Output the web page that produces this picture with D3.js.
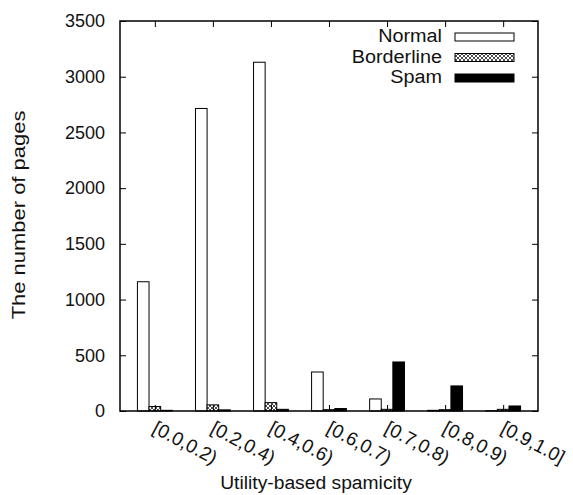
<!DOCTYPE html>
<html>
<head>
<meta charset="utf-8">
<script src="https://cdn.jsdelivr.net/npm/d3@7"></script>
<style>
  body { margin: 0; background: white; }
  text { font-family: "Liberation Sans", Arial, sans-serif; fill: #111; }
</style>
</head>
<body>
<div id="plot"></div>
<script>
// bins of utility-based spamicity
const categories = ["[0.0,0.2)", "[0.2,0.4)", "[0.4,0.6)", "[0.6,0.7)", "[0.7,0.8)", "[0.8,0.9)", "[0.9,1.0]"];
const normal = [1160, 2715, 3130, 350, 108, 6, 2];
const borderline = [40, 55, 75, 12, 15, 12, 15];
const spam = [6, 10, 15, 22, 440, 225, 45];
const yTicks = [0, 500, 1000, 1500, 2000, 2500, 3000, 3500];
const seriesNames = ["Normal", "Borderline", "Spam"];

const w = 573;
const h = 495;
const margin = {top: 21, right: 35, bottom: 84, left: 120};

const svg = d3.select("div#plot")
  .append("svg")
  .attr("width", w)
  .attr("height", h);

svg.append("rect")
  .attr("width", w)
  .attr("height", h)
  .attr("fill", "white");

// the scanned font is a bit wider than Arial
function stretch(sel, k) {
  sel.each(function () {
    const len = this.getComputedTextLength();
    d3.select(this).attr("textLength", len * k).attr("lengthAdjust", "spacingAndGlyphs");
  });
}

// hatch for borderline
const defs = svg.append("defs");
const pat = defs.append("pattern")
  .attr("id", "hatch")
  .attr("patternUnits", "userSpaceOnUse")
  .attr("width", 4)
  .attr("height", 4);
pat.append("rect").attr("width", 4).attr("height", 4).attr("fill", "white");
pat.append("path")
  .attr("d", "M0,4 L4,0 M0,0 L4,4")
  .attr("stroke", "#222")
  .attr("stroke-width", 0.8);

const xScale = d3.scaleLinear()
  .domain([-0.6, categories.length - 0.4])
  .range([margin.left, w - margin.right]);

const yScale = d3.scaleLinear()
  .domain([0, 3500])
  .range([h - margin.bottom, margin.top]);

const barW = 0.2;
const series = [
  {name: "Normal", values: normal, offset: -0.2, fill: "white"},
  {name: "Borderline", values: borderline, offset: 0, fill: "url(#hatch)"},
  {name: "Spam", values: spam, offset: 0.2, fill: "black"}
];

// bars
series.forEach(s => {
  svg.append("g")
    .selectAll("rect")
    .data(s.values)
    .enter()
    .append("rect")
    .attr("x", (d, i) => xScale(i + s.offset - barW / 2))
    .attr("y", d => yScale(d))
    .attr("width", xScale(barW) - xScale(0))
    .attr("height", d => yScale(0) - yScale(d))
    .attr("fill", s.fill)
    .attr("stroke", "black")
    .attr("stroke-width", 1);
});

// axes (ticks pointing inward, gnuplot style)
const idx = d3.range(categories.length);

svg.append("g")
  .attr("transform", `translate(${margin.left},0)`)
  .call(d3.axisLeft(yScale).tickValues(yTicks).tickFormat(d3.format("d"))
    .tickSizeInner(-6).tickSizeOuter(0).tickPadding(15))
  .call(g => g.select(".domain").remove())
  .selectAll("text")
  .style("font-size", "18px");

svg.append("g")
  .attr("transform", `translate(${w - margin.right},0)`)
  .call(d3.axisRight(yScale).tickValues(yTicks).tickSizeInner(-6).tickSizeOuter(0).tickFormat(""))
  .call(g => g.select(".domain").remove());

svg.append("g")
  .attr("transform", `translate(0,${margin.top})`)
  .call(d3.axisTop(xScale).tickValues(idx).tickSizeInner(-6).tickSizeOuter(0).tickFormat(""))
  .call(g => g.select(".domain").remove());

const xAxis = svg.append("g")
  .attr("transform", `translate(0,${h - margin.bottom})`)
  .call(d3.axisBottom(xScale).tickValues(idx).tickSizeInner(-6).tickSizeOuter(0).tickFormat(i => categories[i]))
  .call(g => g.select(".domain").remove());

xAxis.selectAll("text")
  .style("font-size", "19px")
  .attr("text-anchor", "start")
  .attr("y", 0)
  .attr("dy", 0)
  .attr("transform", "translate(-4,21) rotate(28)");

svg.selectAll(".tick line").attr("stroke", "black");

// frame
svg.append("rect")
  .attr("x", margin.left)
  .attr("y", margin.top)
  .attr("width", w - margin.left - margin.right)
  .attr("height", h - margin.top - margin.bottom)
  .attr("fill", "none")
  .attr("stroke", "black")
  .attr("stroke-width", 1.5);

// axis titles
svg.append("text")
  .attr("x", 316)
  .attr("y", 489)
  .attr("text-anchor", "middle")
  .style("font-size", "18px")
  .text("Utility-based spamicity")
  .call(stretch, 1.07);

svg.append("text")
  .attr("transform", `translate(25,215) rotate(-90)`)
  .attr("text-anchor", "middle")
  .style("font-size", "18px")
  .text("The number of pages")
  .call(stretch, 1.22);

// legend
const legend = svg.append("g");
series.forEach((s, i) => {
  const yy = 42 + i * 20.5;
  legend.append("text")
    .attr("x", 442)
    .attr("y", yy)
    .attr("text-anchor", "end")
    .style("font-size", "18px")
    .text(seriesNames[i])
    .call(stretch, 1.1);
  legend.append("rect")
    .attr("x", 455)
    .attr("y", yy - 9)
    .attr("width", 59)
    .attr("height", 8)
    .attr("fill", s.fill)
    .attr("stroke", "black")
    .attr("stroke-width", 1);
});
</script>
</body>
</html>
